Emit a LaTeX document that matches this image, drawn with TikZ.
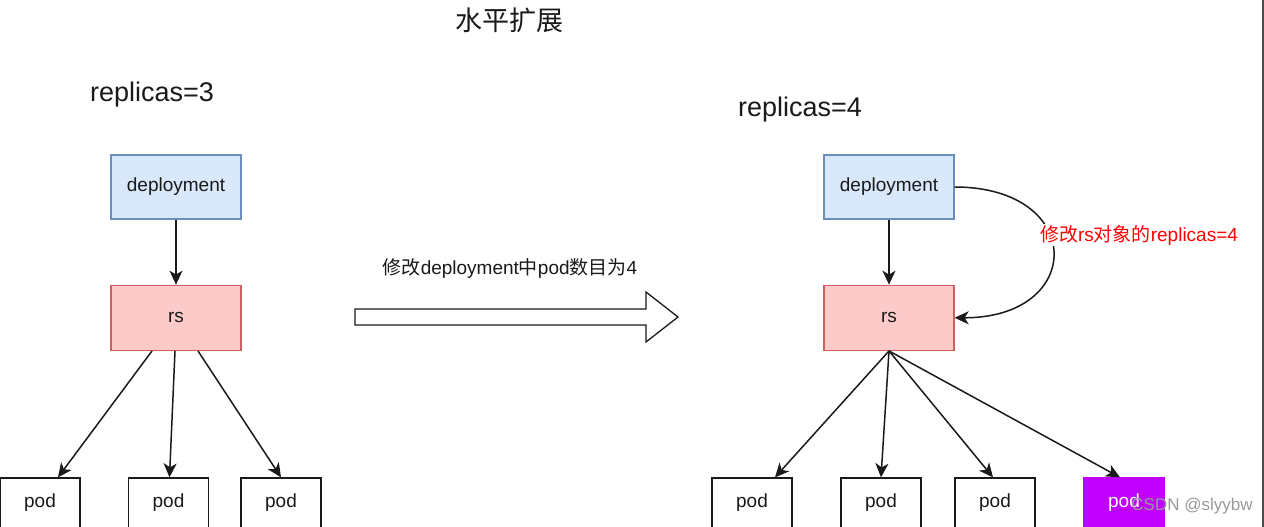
\documentclass[tikz,border=0pt]{standalone}
\usepackage{fontspec}
\setmainfont{Liberation Sans}
\newfontfamily\cjk{Noto Sans CJK SC}
\usetikzlibrary{positioning}
\usetikzlibrary{arrows.meta}
\definecolor{depfill}{HTML}{DAE8FC}
\definecolor{depdraw}{HTML}{6C8EBF}
\definecolor{rsfill}{HTML}{FDCACA}
\definecolor{rsdraw}{HTML}{D06060}
\definecolor{podp}{HTML}{C000FF}
\definecolor{txt}{HTML}{1A1A1A}
\tikzset{
    mynodeb/.style = {rectangle, line width=1.3pt, draw=depdraw, fill=depfill, minimum width=130pt, minimum height=64pt, font=\fontsize{19}{23}\selectfont, text=txt},
    mynoder/.style = {rectangle, line width=1.3pt, draw=rsdraw, fill=rsfill, minimum width=130pt, minimum height=65pt, font=\fontsize{19}{23}\selectfont, text=txt},
    mynodew/.style = {rectangle, line width=1.3pt, draw=txt, fill=white, minimum width=80pt, minimum height=50pt, font=\fontsize{19}{23}\selectfont, text=txt},
    mynodep/.style = {rectangle, line width=1.3pt, draw=podp, fill=podp, minimum width=80pt, minimum height=50pt, font=\fontsize{19}{23}\selectfont, text=white},
    bigtext/.style = {font=\fontsize{27}{32}\selectfont, text=txt},
    edgen/.style = {line width=1.5pt, txt, -{Stealth[length=14pt,width=13pt,inset=4pt]}}
}

\begin{document}
\begin{tikzpicture}[x=1pt, y=-1pt]
  \useasboundingbox (0,0) rectangle (1264,527);
  \fill[white] (0,0) rectangle (1264,527);

  % titles
  \node[bigtext] (title) at (509,20) {\cjk 水平扩展};
  \node[bigtext] (lrep) at (152,95) {replicas=3};
  \node[bigtext] (rrep) at (800,110) {replicas=4};

  % left: before scaling
  \node[mynodeb] (ldep) at (176,187) {deployment};
  \node[mynoder, below=65pt of ldep] (lrs) {rs};
  \node[mynodew] (lpod1) at (40,503) {pod};
  \node[mynodew] (lpod2) at (168.5,503) {pod};
  \node[mynodew] (lpod3) at (281,503) {pod};
  \draw[edgen] (ldep) -- (lrs);
  \draw[edgen] ([xshift=-24pt]lrs.south) -- ([xshift=18pt]lpod1.north);
  \draw[edgen] ([xshift=-1pt]lrs.south) -- ([xshift=1pt]lpod2.north);
  \draw[edgen] ([xshift=22pt]lrs.south) -- (lpod3.north);

  % middle: big arrow
  \node[font=\fontsize{19}{23}\selectfont, text=txt] (chg) at (510,268)
    {{\cjk 修改}deployment{\cjk 中}pod{\cjk 数目为}4};
  \draw[line width=1.3pt, draw=txt, fill=white] (355,309) -- (646,309) -- (646,292)
    -- (678,317) -- (646,342) -- (646,325) -- (355,325) -- cycle;

  % right: after scaling
  \node[mynodeb] (rdep) at (889,187) {deployment};
  \node[mynoder, below=65pt of rdep] (rrs) {rs};
  \node[mynodew] (rpod1) at (752,503) {pod};
  \node[mynodew] (rpod2) at (881,503) {pod};
  \node[mynodew] (rpod3) at (995,503) {pod};
  \node[mynodep] (rpod4) at (1124,503) {pod};
  \draw[edgen] (rdep) -- (rrs);
  \draw[edgen] (rrs.south) -- ([xshift=23pt]rpod1.north);
  \draw[edgen] (rrs.south) -- (rpod2.north);
  \draw[edgen] (rrs.south) -- ([xshift=-2pt]rpod3.north);
  \draw[edgen] (rrs.south) -- ([xshift=-4pt]rpod4.north);
  \draw[edgen] (rdep.east) .. controls +(131,0) and +(131,0) .. (rrs.east);
  \node[fill=white, inner sep=1pt, text=red, font=\fontsize{19}{23}\selectfont] (lbl) at (1139,235)
    {{\cjk 修改}rs{\cjk 对象的}replicas=4};

  % watermark and edge
  \node[text=gray!80, font=\fontsize{17}{20}\selectfont] (wm) at (1192,506) {CSDN @slyybw};
  \draw[line width=2pt, black!70] (1262.5,0) -- (1262.5,527);
\end{tikzpicture}
\end{document}
